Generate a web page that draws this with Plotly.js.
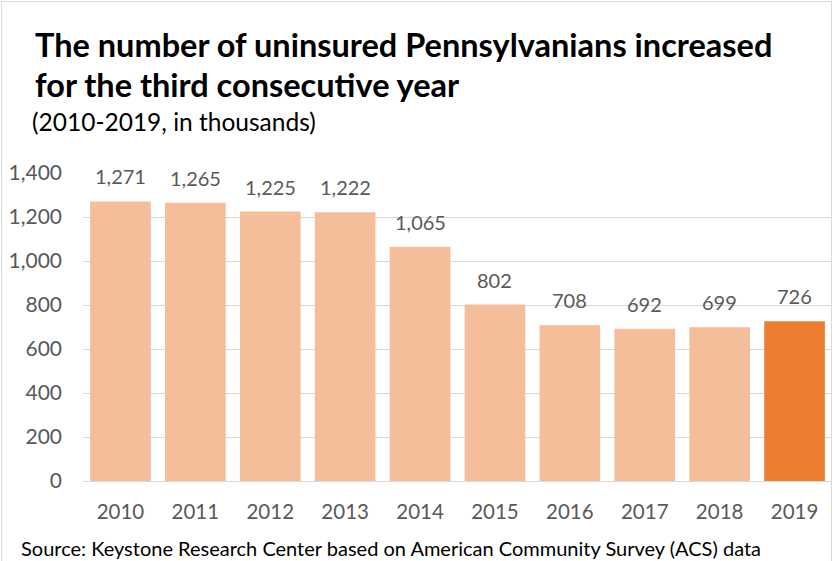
<!DOCTYPE html>
<html>
<head>
<meta charset="utf-8">
<script src="https://cdn.plot.ly/plotly-3.0.1.min.js"></script>
<style>
  html, body { margin: 0; padding: 0; background: #fff; }
  #frame { position: absolute; left: 1px; top: 1px; width: 831px; height: 570px; border: 1px solid #d9d9d9; box-sizing: border-box; }
  #chart { position: absolute; left: 0; top: 0; width: 835px; height: 561px; }
</style>
</head>
<body>
<div id="frame"></div>
<div id="chart"></div>
<script>
const years = ['2010','2011','2012','2013','2014','2015','2016','2017','2018','2019'];
const uninsured = [1271, 1265, 1225, 1222, 1065, 802, 708, 692, 699, 726];
const yTicks = [0, 200, 400, 600, 800, 1000, 1200, 1400];
const yTickLabels = ['0', '200', '400', '600', '800', '1,000', '1,200', '1,400'];
const titleLine1 = 'The number of uninsured Pennsylvanians increased';
const titleLine2 = 'for the third consecutive year';
const subtitle = '(2010-2019, in thousands)';
const source = 'Source: Keystone Research Center based on American Community Survey (ACS) data';

const light = '#F5BE9A', dark = '#ED7D31';
const colors = years.map((y, i) => i === years.length - 1 ? dark : light);
const FONT = 'Lato, "Open Sans", sans-serif';

const trace = {
  type: 'bar',
  x: years,
  y: uninsured,
  marker: { color: colors },
  cliponaxis: false,
  hoverinfo: 'x+y'
};

const valueLabels = years.map((yr, i) => ({
  xref: 'x', yref: 'y', x: i, y: uninsured[i],
  xanchor: 'center', yanchor: 'middle', yshift: 25,
  text: uninsured[i].toLocaleString('en-US'), showarrow: false,
  font: { family: FONT, size: 20, color: '#595959' }
}));

const layout = {
  width: 835, height: 561,
  margin: { l: 83, r: 3, t: 173, b: 80 },
  paper_bgcolor: 'rgba(0,0,0,0)',
  plot_bgcolor: 'rgba(0,0,0,0)',
  bargap: 0.19,
  showlegend: false,
  xaxis: {
    type: 'category',
    range: [-0.5, years.length - 0.5],
    tickfont: { family: FONT, size: 20.5, color: '#595959' },
    showline: true, linecolor: '#d9d9d9', linewidth: 1,
    ticks: '', ticklabelstandoff: 12
  },
  yaxis: {
    range: [0, 1400],
    tickvals: yTicks, ticktext: yTickLabels,
    tickfont: { family: FONT, size: 21, color: '#595959' },
    gridcolor: '#d9d9d9', gridwidth: 1,
    zeroline: false, showline: false, ticks: '',
    ticklabelstandoff: 20
  },
  annotations: valueLabels.concat([
    { xref: 'paper', yref: 'paper', x: (33 - 83) / 749, y: (481 - 44) / 308, xanchor: 'left', yanchor: 'middle',
      text: '<b>' + titleLine1 + '</b>', showarrow: false, font: { family: FONT, size: 32.5, color: '#000' } },
    { xref: 'paper', yref: 'paper', x: (33 - 83) / 749, y: (481 - 84) / 308, xanchor: 'left', yanchor: 'middle',
      text: '<b>' + titleLine2 + '</b>', showarrow: false, font: { family: FONT, size: 32.5, color: '#000' } },
    { xref: 'paper', yref: 'paper', x: (30 - 83) / 749, y: (481 - 121) / 308, xanchor: 'left', yanchor: 'middle',
      text: subtitle, showarrow: false, font: { family: FONT, size: 24.5, color: '#000' } },
    { xref: 'paper', yref: 'paper', x: (19 - 83) / 749, y: (481 - 548) / 308, xanchor: 'left', yanchor: 'middle',
      text: source, showarrow: false, font: { family: FONT, size: 20, color: '#000' } }
  ])
};

Plotly.newPlot('chart', [trace], layout, { displayModeBar: false, staticPlot: true });
</script>
</body>
</html>
